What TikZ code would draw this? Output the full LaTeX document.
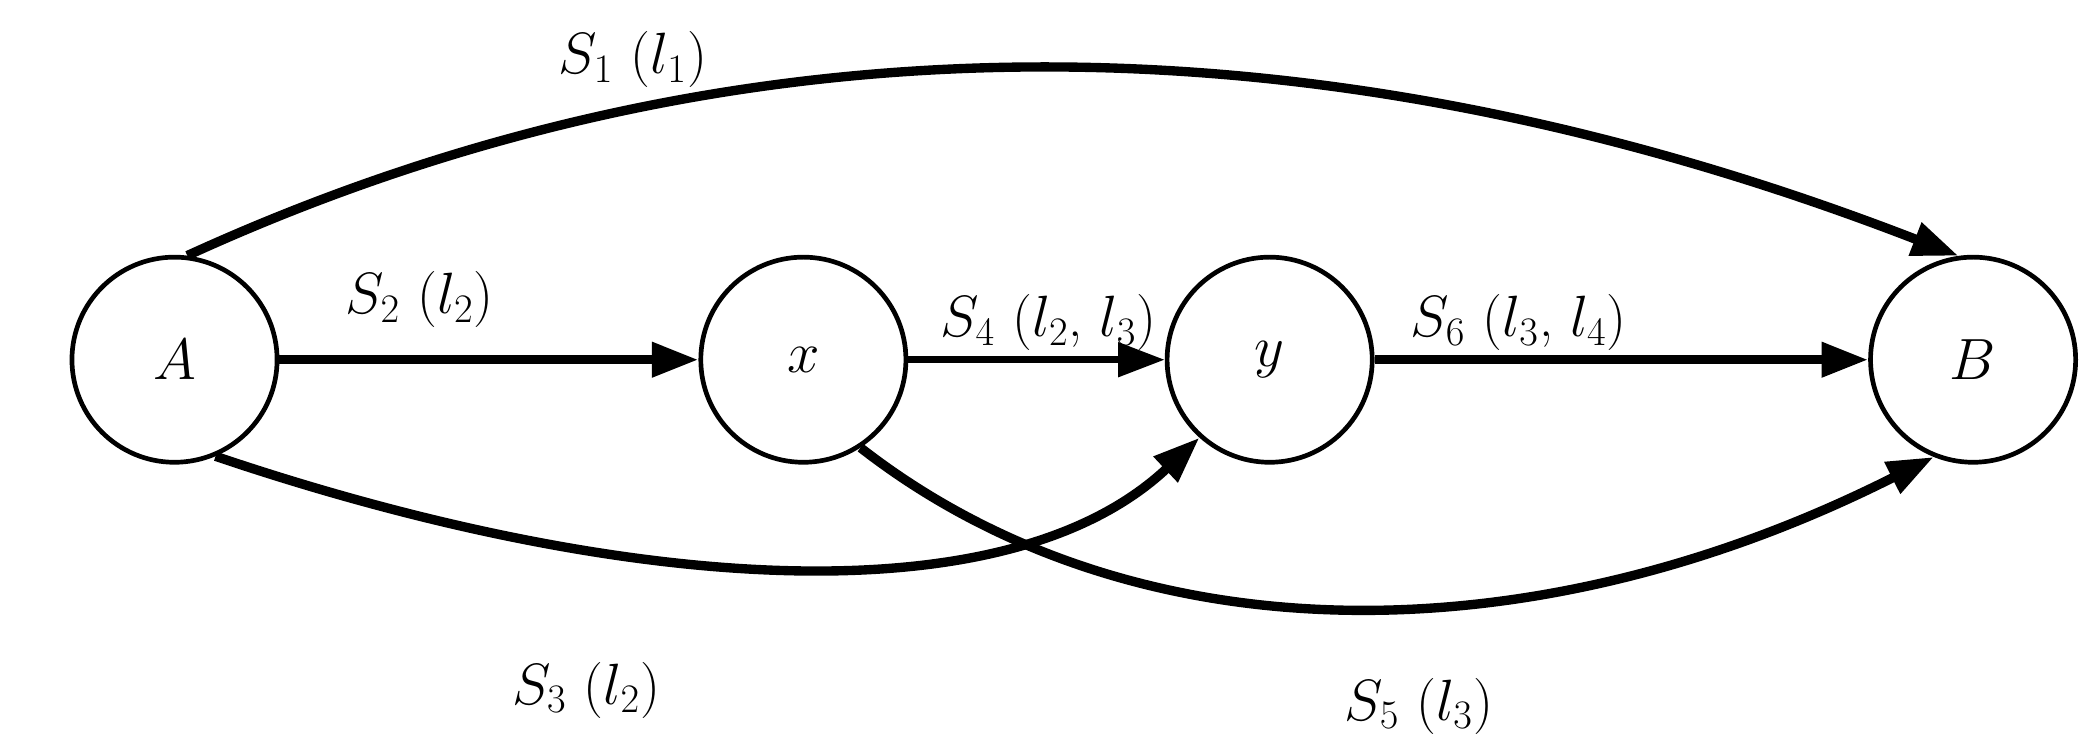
\documentclass[tikz,border=0pt]{standalone}
\usetikzlibrary{arrows.meta}
\begin{document}
\begin{tikzpicture}[x=0.02cm,y=-0.02cm,
  st/.style={circle,draw,line width=2pt,minimum size=3.08cm,inner sep=0pt,font=\fontsize{38}{44}\selectfont\itshape},
  ed/.style={line width=4pt,-{Triangle[length=0.7cm,width=0.5cm]}},
  lb/.style={font=\fontsize{24}{28}\selectfont}]
\useasboundingbox (0,0) rectangle (1562,565);
\node[st] (A) at (131,270) {$A$};
\node[st] (x) at (603,270) {$x$};
\node[st] (y) at (953,270) {$y$};
\node[st] (B) at (1481,270) {$B$};
\draw[ed] (A) -- (x);
\draw[ed,line width=3pt] (x) -- (y);
\draw[ed] (y) -- (B);
\draw[ed] (A.83) .. controls (560,0) and (1000,10) .. (B.98);
\draw[ed] (A.-67) .. controls (450,440) and (750,470) .. (y.-132);
\draw[ed] (x.-57) .. controls (850,495) and (1150,495) .. (B.-112);
\node[lb] (l1) at (475,45) {$S_1$ ($l_1$)};
\node[lb] (l2) at (315,225) {$S_2$ ($l_2$)};
\node[lb] (l4) at (787,242) {$S_4$ ($l_2$, $l_3$)};
\node[lb] (l6) at (1140,242) {$S_6$ ($l_3$, $l_4$)};
\node[lb] (l3) at (440,518) {$S_3$ ($l_2$)};
\node[lb] (l5) at (1065,530) {$S_5$ ($l_3$)};
\end{tikzpicture}
\end{document}
